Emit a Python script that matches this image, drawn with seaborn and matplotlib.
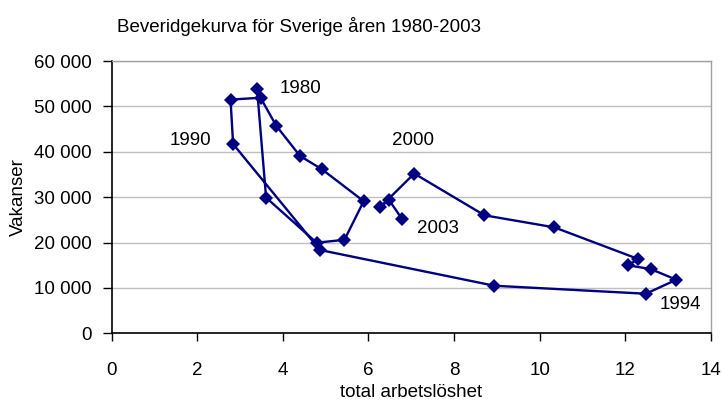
import matplotlib
matplotlib.use("Agg")
import matplotlib.pyplot as plt
import matplotlib.ticker as mticker
import seaborn as sns
import pandas as pd

years = list(range(1980, 2004))
unemployment = [3.40, 3.61, 4.79, 5.44, 5.89, 4.92, 4.40, 3.85, 3.48, 2.78,
                2.84, 4.87, 8.94, 12.48, 13.19, 12.59, 12.06, 12.30, 10.34, 8.71,
                7.07, 6.27, 6.48, 6.79]
vacancies = [53800, 29900, 19960, 20600, 29100, 36100, 39100, 45700, 51900, 51500,
             41700, 18350, 10480, 8720, 11810, 14160, 14980, 16370, 23350, 26000,
             35200, 27750, 29400, 25100]
labeled_years = ["1980", "1990", "2000", "2003", "1994"]

df = pd.DataFrame({"year": years, "u": unemployment, "v": vacancies})

sns.set_style("white")
plt.rcParams["font.family"] = ["Liberation Sans", "DejaVu Sans"]
plt.rcParams["text.color"] = "black"
plt.rcParams["axes.labelcolor"] = "black"
plt.rcParams["xtick.color"] = "black"
plt.rcParams["ytick.color"] = "black"

fig = plt.figure(figsize=(7.22, 4.03), dpi=100)
ax = fig.add_axes([111.5 / 722, 1 - 333.3 / 403, (711 - 111.5) / 722, (333.3 - 61) / 403])

navy = "#000080"
sns.lineplot(data=df, x="u", y="v", sort=False, estimator=None, ax=ax,
             color=navy, linewidth=1.7, marker="D", markersize=7.5,
             markeredgewidth=0, markerfacecolor=navy)

ax.set_xlim(0, 14)
ax.set_ylim(0, 60000)
ax.set_xticks(range(0, 15, 2))
ax.set_yticks(range(0, 60001, 10000))
ax.yaxis.set_major_formatter(mticker.FuncFormatter(
    lambda v, p: f"{int(v):,}".replace(",", " ")))

ax.grid(axis="y", color="#bfbfbf", linewidth=1.0)
ax.set_axisbelow(True)
for s in ["top", "right"]:
    ax.spines[s].set_color("#a0a0a0")
    ax.spines[s].set_linewidth(1.0)
for s in ["left", "bottom"]:
    ax.spines[s].set_color("black")
    ax.spines[s].set_linewidth(1.2)

ax.tick_params(axis="x", direction="out", length=5.5, width=1,
               pad=15, labelsize=13.5, labelcolor="black")
ax.tick_params(axis="y", direction="out", length=6.5, width=1,
               pad=8, labelsize=13.5, labelcolor="black")
ax.xaxis.set_ticks_position("bottom")
ax.yaxis.set_ticks_position("left")

ax.set_xlabel("total arbetslöshet", fontsize=13.5, labelpad=4)
ax.set_ylabel("Vakanser", fontsize=13.5, labelpad=5)

label_pos = [(4.42, 54000), (1.85, 42470), (7.05, 42470), (7.63, 23130), (13.28, 6450)]
for txt, (lx, ly) in zip(labeled_years, label_pos):
    ax.text(lx, ly, txt, fontsize=13.5, ha="center", va="center", color="black")

fig.text(117 / 722, 1 - 32 / 403, "Beveridgekurva för Sverige åren 1980-2003",
         fontsize=13.5, ha="left", va="baseline", color="black")

fig.savefig("out.png", dpi=100)
